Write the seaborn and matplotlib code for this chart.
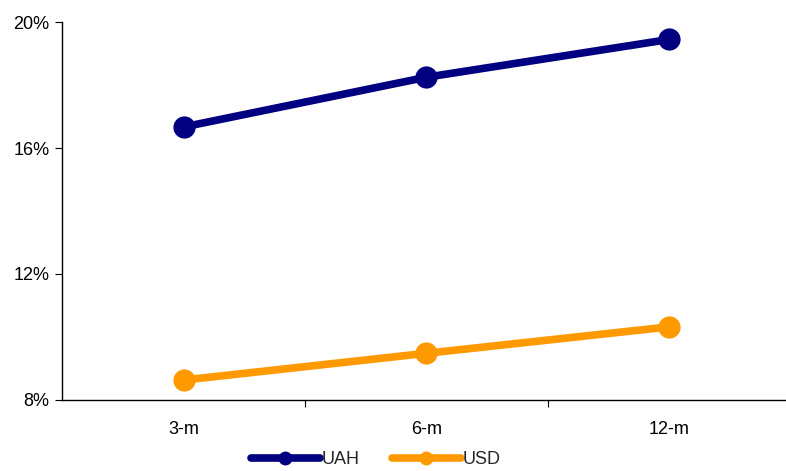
import matplotlib
matplotlib.use("Agg")
import matplotlib.pyplot as plt
import seaborn as sns
import pandas as pd
from matplotlib.ticker import FixedLocator, FuncFormatter
from matplotlib.lines import Line2D

categories = ["3-m", "6-m", "12-m"]
uah = [16.67, 18.25, 19.45]
usd = [8.63, 9.48, 10.32]
series_names = ["UAH", "USD"]
y_ticks = [8, 12, 16, 20]

df = pd.DataFrame({
    "term": categories * 2,
    "rate": uah + usd,
    "currency": [series_names[0]] * 3 + [series_names[1]] * 3,
})

sns.set_theme(style="white")
plt.rcParams["font.family"] = ["Liberation Sans", "DejaVu Sans"]

fig = plt.figure(figsize=(7.86, 4.71), dpi=100)
ax = fig.add_axes([0.079, 0.151, 0.927, 0.802])

palette = {"UAH": "#000080", "USD": "#FF9900"}
sns.lineplot(data=df, x="term", y="rate", hue="currency", palette=palette,
             marker="o", markersize=16, linewidth=5.5, markeredgewidth=0,
             sort=False, ax=ax, legend=False)

ax.set_xlim(-0.5, 2.5)
ax.set_ylim(8, 20)
ax.set_yticks(y_ticks)
ax.yaxis.set_major_formatter(FuncFormatter(lambda v, p: f"{v:.0f}%"))
ax.set_xlabel("")
ax.set_ylabel("")

fs = 13
ax.xaxis.set_minor_locator(FixedLocator([0.5, 1.5]))
ax.tick_params(axis="x", which="major", length=0, pad=15, labelsize=fs, colors="black")
ax.tick_params(axis="x", which="minor", length=5, width=0.8, color="black", direction="out", bottom=True)
ax.tick_params(axis="y", which="major", length=5, width=0.8, color="black", direction="out",
               left=True, pad=4, labelsize=fs, labelcolor="black")

for s in ["top", "right"]:
    ax.spines[s].set_visible(False)
for s in ["left", "bottom"]:
    ax.spines[s].set_color("black")
    ax.spines[s].set_linewidth(1.0)

handles = [Line2D([], [], color=palette[n], linewidth=5.5, marker="o", markersize=10,
                  markeredgewidth=0) for n in series_names]
fig.legend(handles, series_names, loc="center", bbox_to_anchor=(0.478, 0.024),
           ncol=2, frameon=False, fontsize=fs, handlelength=3.8, handletextpad=0.1,
           columnspacing=1.8, numpoints=1, borderpad=0)

fig.savefig("out.png", dpi=100)
